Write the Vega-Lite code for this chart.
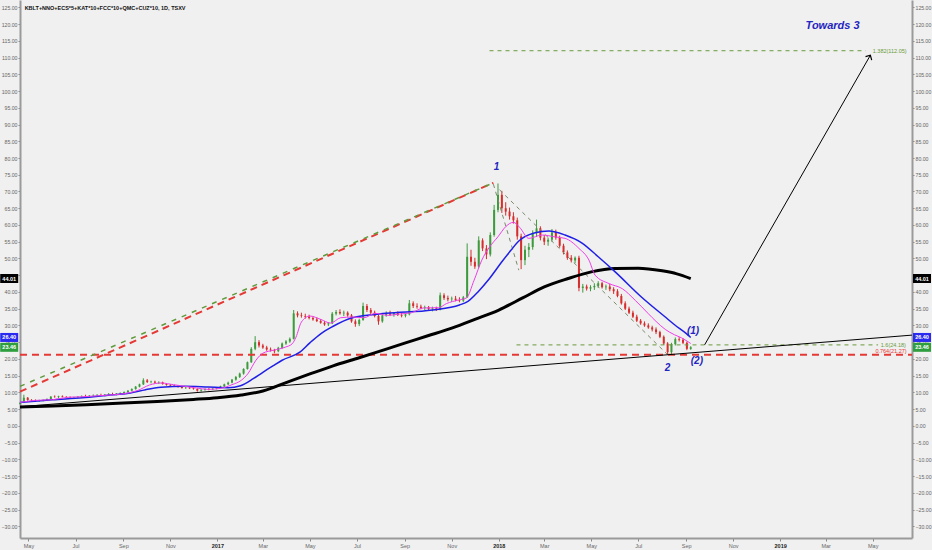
{
"$schema":"https://vega.github.io/schema/vega-lite/v6.json",
"width":892,"height":538,
"autosize":{"type":"none"},
"padding":{"left":20,"top":0,"right":20,"bottom":12},
"background":"#f0f0f0",
"config":{"view":{"stroke":null,"fill":"#f0f0f0"},"font":"Liberation Sans"},
"datasets":{
"c":[
{"d":"2016-04-20","o":6.6,"h":7.0,"l":6.4,"c":6.9},{"d":"2016-04-25","o":6.9,"h":9.3,"l":6.8,"c":8.4},{"d":"2016-04-30","o":8.4,"h":8.6,"l":7.5,"c":7.7},{"d":"2016-05-05","o":7.7,"h":8.0,"l":7.3,"c":7.6},{"d":"2016-05-10","o":7.6,"h":7.9,"l":7.3,"c":7.5},{"d":"2016-05-15","o":7.5,"h":7.8,"l":7.2,"c":7.6},{"d":"2016-05-20","o":7.6,"h":7.9,"l":7.3,"c":7.7},{"d":"2016-05-25","o":7.7,"h":8.2,"l":7.5,"c":8.0},{"d":"2016-05-30","o":8.0,"h":8.9,"l":7.9,"c":8.7},{"d":"2016-06-04","o":8.7,"h":9.1,"l":8.4,"c":8.6},{"d":"2016-06-09","o":8.6,"h":9.0,"l":8.3,"c":8.8},{"d":"2016-06-14","o":8.8,"h":9.1,"l":8.5,"c":8.6},{"d":"2016-06-19","o":8.6,"h":8.9,"l":8.3,"c":8.5},{"d":"2016-06-24","o":8.5,"h":8.8,"l":8.2,"c":8.4},{"d":"2016-06-29","o":8.4,"h":8.7,"l":8.1,"c":8.5},{"d":"2016-07-04","o":8.5,"h":8.9,"l":8.3,"c":8.7},{"d":"2016-07-09","o":8.7,"h":9.1,"l":8.5,"c":8.9},{"d":"2016-07-14","o":8.9,"h":9.3,"l":8.6,"c":8.8},{"d":"2016-07-19","o":8.8,"h":9.2,"l":8.5,"c":9.0},{"d":"2016-07-24","o":9.0,"h":9.4,"l":8.7,"c":9.1},{"d":"2016-07-29","o":9.1,"h":9.5,"l":8.8,"c":9.2},{"d":"2016-08-03","o":9.2,"h":9.6,"l":8.9,"c":9.0},{"d":"2016-08-08","o":9.0,"h":9.5,"l":8.8,"c":9.3},{"d":"2016-08-13","o":9.3,"h":9.8,"l":9.0,"c":9.5},{"d":"2016-08-18","o":9.5,"h":9.9,"l":9.2,"c":9.4},{"d":"2016-08-23","o":9.4,"h":9.8,"l":9.1,"c":9.6},{"d":"2016-08-28","o":9.6,"h":10.0,"l":9.3,"c":9.8},{"d":"2016-09-02","o":9.8,"h":10.3,"l":9.5,"c":10.1},{"d":"2016-09-07","o":10.1,"h":10.7,"l":9.9,"c":10.5},{"d":"2016-09-12","o":10.5,"h":11.2,"l":10.3,"c":11.0},{"d":"2016-09-17","o":11.0,"h":11.9,"l":10.8,"c":11.7},{"d":"2016-09-22","o":11.7,"h":12.6,"l":11.5,"c":12.4},{"d":"2016-09-27","o":12.4,"h":14.2,"l":12.2,"c":13.6},{"d":"2016-10-02","o":13.6,"h":14.0,"l":12.8,"c":13.1},{"d":"2016-10-07","o":13.1,"h":13.5,"l":12.7,"c":13.2},{"d":"2016-10-12","o":13.2,"h":13.5,"l":12.6,"c":12.9},{"d":"2016-10-17","o":12.9,"h":13.3,"l":12.5,"c":13.0},{"d":"2016-10-22","o":13.0,"h":13.2,"l":12.3,"c":12.5},{"d":"2016-10-27","o":12.5,"h":12.8,"l":12.0,"c":12.2},{"d":"2016-11-01","o":12.2,"h":12.5,"l":11.8,"c":12.0},{"d":"2016-11-06","o":12.0,"h":12.3,"l":11.6,"c":11.8},{"d":"2016-11-11","o":11.8,"h":12.1,"l":11.4,"c":11.6},{"d":"2016-11-16","o":11.6,"h":11.9,"l":11.1,"c":11.3},{"d":"2016-11-21","o":11.3,"h":11.7,"l":11.0,"c":11.4},{"d":"2016-11-26","o":11.4,"h":11.7,"l":11.0,"c":11.2},{"d":"2016-12-01","o":11.2,"h":11.5,"l":10.8,"c":11.0},{"d":"2016-12-06","o":11.0,"h":11.2,"l":10.2,"c":10.5},{"d":"2016-12-11","o":10.5,"h":10.9,"l":10.2,"c":10.8},{"d":"2016-12-16","o":10.8,"h":11.2,"l":10.5,"c":11.0},{"d":"2016-12-21","o":11.0,"h":11.3,"l":10.6,"c":10.9},{"d":"2016-12-26","o":10.9,"h":11.3,"l":10.7,"c":11.1},{"d":"2016-12-31","o":11.1,"h":11.6,"l":10.9,"c":11.5},
{"d":"2017-01-05","o":11.5,"h":12.0,"l":11.2,"c":11.8},{"d":"2017-01-10","o":11.8,"h":12.6,"l":11.6,"c":12.4},{"d":"2017-01-15","o":12.4,"h":13.2,"l":12.2,"c":12.9},{"d":"2017-01-20","o":12.9,"h":14.0,"l":12.7,"c":13.8},{"d":"2017-01-25","o":13.8,"h":14.9,"l":13.5,"c":14.6},{"d":"2017-01-30","o":14.6,"h":15.9,"l":14.3,"c":15.6},{"d":"2017-02-04","o":15.6,"h":17.2,"l":15.3,"c":17.0},{"d":"2017-02-09","o":17.0,"h":19.2,"l":16.8,"c":19.0},{"d":"2017-02-14","o":19.0,"h":23.5,"l":18.8,"c":23.0},{"d":"2017-02-19","o":23.0,"h":26.8,"l":22.6,"c":25.0},{"d":"2017-02-24","o":25.0,"h":25.6,"l":23.4,"c":24.0},{"d":"2017-03-01","o":24.0,"h":24.5,"l":23.0,"c":23.4},{"d":"2017-03-06","o":23.4,"h":23.9,"l":22.4,"c":22.8},{"d":"2017-03-11","o":22.8,"h":23.4,"l":22.2,"c":22.6},{"d":"2017-03-16","o":22.6,"h":23.0,"l":21.7,"c":22.3},{"d":"2017-03-21","o":22.3,"h":23.6,"l":22.0,"c":23.3},{"d":"2017-03-26","o":23.3,"h":24.9,"l":23.0,"c":24.6},{"d":"2017-03-31","o":24.6,"h":25.6,"l":24.2,"c":25.2},{"d":"2017-04-05","o":25.2,"h":26.4,"l":24.8,"c":26.0},{"d":"2017-04-10","o":26.0,"h":34.6,"l":25.8,"c":33.6},{"d":"2017-04-15","o":33.6,"h":34.2,"l":32.4,"c":33.0},{"d":"2017-04-20","o":33.0,"h":33.8,"l":32.3,"c":32.8},{"d":"2017-04-25","o":32.8,"h":33.5,"l":32.0,"c":32.6},{"d":"2017-04-30","o":32.6,"h":33.2,"l":31.8,"c":32.2},{"d":"2017-05-05","o":32.2,"h":32.8,"l":31.4,"c":31.8},{"d":"2017-05-10","o":31.8,"h":32.4,"l":31.0,"c":31.3},{"d":"2017-05-15","o":31.3,"h":31.9,"l":30.5,"c":30.8},{"d":"2017-05-20","o":30.8,"h":31.3,"l":29.9,"c":30.3},{"d":"2017-05-25","o":30.3,"h":31.0,"l":29.8,"c":30.6},{"d":"2017-05-30","o":30.6,"h":34.0,"l":30.4,"c":33.5},{"d":"2017-06-04","o":33.5,"h":34.6,"l":33.0,"c":34.0},{"d":"2017-06-09","o":34.0,"h":34.8,"l":33.2,"c":33.6},{"d":"2017-06-14","o":33.6,"h":34.4,"l":32.8,"c":33.8},{"d":"2017-06-19","o":33.8,"h":34.2,"l":32.6,"c":33.0},{"d":"2017-06-24","o":33.0,"h":33.4,"l":30.8,"c":31.2},{"d":"2017-06-29","o":31.2,"h":31.8,"l":29.6,"c":30.4},{"d":"2017-07-04","o":30.4,"h":32.0,"l":29.8,"c":31.6},{"d":"2017-07-09","o":31.6,"h":36.8,"l":31.4,"c":35.8},{"d":"2017-07-14","o":35.8,"h":36.4,"l":34.0,"c":34.6},{"d":"2017-07-19","o":34.6,"h":35.2,"l":33.2,"c":33.8},{"d":"2017-07-24","o":33.8,"h":34.4,"l":32.4,"c":32.8},{"d":"2017-07-29","o":32.8,"h":33.2,"l":30.2,"c":31.2},{"d":"2017-08-03","o":31.2,"h":33.4,"l":30.8,"c":33.0},{"d":"2017-08-08","o":33.0,"h":34.2,"l":32.6,"c":33.6},{"d":"2017-08-13","o":33.6,"h":34.4,"l":32.8,"c":33.2},{"d":"2017-08-18","o":33.2,"h":34.0,"l":32.6,"c":33.7},{"d":"2017-08-23","o":33.7,"h":34.2,"l":32.8,"c":33.1},{"d":"2017-08-28","o":33.1,"h":33.8,"l":32.4,"c":32.9},{"d":"2017-09-02","o":32.9,"h":33.6,"l":32.4,"c":33.3},{"d":"2017-09-07","o":33.3,"h":37.6,"l":33.0,"c":36.6},{"d":"2017-09-12","o":36.6,"h":37.2,"l":35.2,"c":35.8},{"d":"2017-09-17","o":35.8,"h":36.6,"l":35.0,"c":35.6},{"d":"2017-09-22","o":35.6,"h":36.2,"l":34.8,"c":35.2},{"d":"2017-09-27","o":35.2,"h":35.9,"l":34.6,"c":35.4},{"d":"2017-10-02","o":35.4,"h":35.8,"l":34.4,"c":34.9},{"d":"2017-10-07","o":34.9,"h":35.6,"l":34.2,"c":35.1},{"d":"2017-10-12","o":35.1,"h":35.6,"l":34.3,"c":34.7},{"d":"2017-10-17","o":34.7,"h":39.8,"l":34.5,"c":39.0},{"d":"2017-10-22","o":39.0,"h":39.6,"l":37.6,"c":38.2},{"d":"2017-10-27","o":38.2,"h":38.9,"l":37.2,"c":37.8},{"d":"2017-11-01","o":37.8,"h":38.6,"l":37.0,"c":38.0},{"d":"2017-11-06","o":38.0,"h":38.8,"l":37.2,"c":37.6},{"d":"2017-11-11","o":37.6,"h":38.4,"l":36.9,"c":37.4},{"d":"2017-11-16","o":37.4,"h":38.8,"l":37.0,"c":38.4},{"d":"2017-11-21","o":38.4,"h":54.5,"l":38.2,"c":50.5},{"d":"2017-11-26","o":50.5,"h":52.6,"l":47.8,"c":49.0},{"d":"2017-12-01","o":49.0,"h":50.2,"l":46.9,"c":47.6},{"d":"2017-12-06","o":47.6,"h":56.6,"l":47.2,"c":55.4},{"d":"2017-12-11","o":55.4,"h":56.0,"l":52.2,"c":53.0},{"d":"2017-12-16","o":53.0,"h":54.0,"l":49.8,"c":51.2},{"d":"2017-12-21","o":51.2,"h":57.8,"l":50.6,"c":57.0},{"d":"2017-12-26","o":57.0,"h":66.0,"l":56.5,"c":64.5},{"d":"2017-12-31","o":64.5,"h":72.4,"l":63.8,"c":69.0},
{"d":"2018-01-05","o":69.0,"h":70.2,"l":63.6,"c":65.0},{"d":"2018-01-10","o":65.0,"h":66.8,"l":62.8,"c":64.0},{"d":"2018-01-15","o":64.0,"h":65.2,"l":61.6,"c":62.6},{"d":"2018-01-20","o":62.6,"h":63.8,"l":60.4,"c":61.4},{"d":"2018-01-25","o":61.4,"h":62.2,"l":55.6,"c":56.6},{"d":"2018-01-30","o":56.6,"h":57.4,"l":46.8,"c":49.5},{"d":"2018-02-04","o":49.5,"h":53.8,"l":48.0,"c":52.6},{"d":"2018-02-09","o":52.6,"h":54.6,"l":50.4,"c":53.4},{"d":"2018-02-14","o":53.4,"h":58.4,"l":52.6,"c":57.6},{"d":"2018-02-19","o":57.6,"h":61.6,"l":56.4,"c":59.0},{"d":"2018-02-24","o":59.0,"h":59.6,"l":55.4,"c":56.2},{"d":"2018-03-01","o":56.2,"h":57.0,"l":54.0,"c":55.0},{"d":"2018-03-06","o":55.0,"h":56.2,"l":53.8,"c":55.6},{"d":"2018-03-11","o":55.6,"h":58.8,"l":55.0,"c":57.8},{"d":"2018-03-16","o":57.8,"h":58.6,"l":55.6,"c":56.2},{"d":"2018-03-21","o":56.2,"h":56.8,"l":53.2,"c":53.8},{"d":"2018-03-26","o":53.8,"h":54.4,"l":51.2,"c":51.8},{"d":"2018-03-31","o":51.8,"h":52.4,"l":49.6,"c":50.2},{"d":"2018-04-05","o":50.2,"h":51.0,"l":48.8,"c":49.4},{"d":"2018-04-10","o":49.4,"h":50.6,"l":48.6,"c":50.2},{"d":"2018-04-15","o":50.2,"h":50.8,"l":40.2,"c":41.2},{"d":"2018-04-20","o":41.2,"h":42.4,"l":39.8,"c":41.6},{"d":"2018-04-25","o":41.6,"h":42.2,"l":40.4,"c":41.0},{"d":"2018-04-30","o":41.0,"h":42.0,"l":40.2,"c":41.4},{"d":"2018-05-05","o":41.4,"h":42.6,"l":40.6,"c":41.8},{"d":"2018-05-10","o":41.8,"h":43.2,"l":41.2,"c":42.6},{"d":"2018-05-15","o":42.6,"h":43.0,"l":41.0,"c":41.4},{"d":"2018-05-20","o":41.4,"h":42.2,"l":40.6,"c":41.6},{"d":"2018-05-25","o":41.6,"h":42.4,"l":40.2,"c":40.8},{"d":"2018-05-30","o":40.8,"h":41.4,"l":39.4,"c":40.2},{"d":"2018-06-04","o":40.2,"h":40.8,"l":38.4,"c":38.8},{"d":"2018-06-09","o":38.8,"h":39.4,"l":36.2,"c":36.6},{"d":"2018-06-14","o":36.6,"h":37.2,"l":34.6,"c":35.0},{"d":"2018-06-19","o":35.0,"h":35.6,"l":33.4,"c":33.8},{"d":"2018-06-24","o":33.8,"h":34.4,"l":32.2,"c":32.6},{"d":"2018-06-29","o":32.6,"h":33.2,"l":31.0,"c":31.4},{"d":"2018-07-04","o":31.4,"h":31.9,"l":30.2,"c":30.6},{"d":"2018-07-09","o":30.6,"h":31.2,"l":29.6,"c":30.0},{"d":"2018-07-14","o":30.0,"h":30.6,"l":29.0,"c":29.4},{"d":"2018-07-19","o":29.4,"h":29.9,"l":28.2,"c":28.8},{"d":"2018-07-24","o":28.8,"h":29.4,"l":27.4,"c":28.0},{"d":"2018-07-29","o":28.0,"h":28.4,"l":26.2,"c":26.6},{"d":"2018-08-03","o":26.6,"h":27.0,"l":24.2,"c":24.6},{"d":"2018-08-08","o":24.6,"h":25.0,"l":21.3,"c":22.0},{"d":"2018-08-13","o":22.0,"h":24.8,"l":21.4,"c":24.4},{"d":"2018-08-18","o":24.4,"h":26.4,"l":24.0,"c":25.9},{"d":"2018-08-23","o":25.9,"h":26.5,"l":25.2,"c":25.7},{"d":"2018-08-28","o":25.7,"h":26.2,"l":24.4,"c":24.8},{"d":"2018-09-02","o":24.8,"h":25.2,"l":22.6,"c":23.0},{"d":"2018-09-07","o":23.0,"h":23.8,"l":22.7,"c":23.46}
],
"pink":[
{"d":"2016-04-20","v":7.0},{"d":"2016-05-10","v":7.6},{"d":"2016-06-01","v":7.8},{"d":"2016-06-20","v":8.5},{"d":"2016-07-10","v":8.7},{"d":"2016-08-01","v":9.0},{"d":"2016-08-20","v":9.3},{"d":"2016-09-05","v":9.7},{"d":"2016-09-20","v":10.6},{"d":"2016-10-05","v":12.2},{"d":"2016-10-20","v":12.8},{"d":"2016-11-05","v":12.3},{"d":"2016-11-20","v":11.8},{"d":"2016-12-05","v":11.3},{"d":"2016-12-20","v":10.9},{"d":"2017-01-05","v":11.2},{"d":"2017-01-20","v":12.3},{"d":"2017-02-01","v":13.6},{"d":"2017-02-10","v":15.7},{"d":"2017-02-20","v":19.6},{"d":"2017-03-01","v":21.7},{"d":"2017-03-15","v":22.6},{"d":"2017-03-30","v":23.5},{"d":"2017-04-08","v":24.5},{"d":"2017-04-13","v":26.5},{"d":"2017-04-20","v":31.0},{"d":"2017-05-01","v":32.8},{"d":"2017-05-15","v":31.8},{"d":"2017-05-28","v":30.7},{"d":"2017-06-10","v":32.3},{"d":"2017-06-25","v":32.5},{"d":"2017-07-10","v":32.3},{"d":"2017-07-25","v":33.6},{"d":"2017-08-10","v":33.0},{"d":"2017-08-25","v":33.4},{"d":"2017-09-10","v":33.8},{"d":"2017-09-25","v":35.2},{"d":"2017-10-15","v":35.3},{"d":"2017-10-25","v":36.5},{"d":"2017-11-10","v":37.6},{"d":"2017-11-20","v":38.2},{"d":"2017-11-30","v":43.5},{"d":"2017-12-10","v":49.5},{"d":"2017-12-20","v":53.4},{"d":"2017-12-31","v":56.5},{"d":"2018-01-10","v":59.5},{"d":"2018-01-20","v":60.8},{"d":"2018-01-28","v":59.3},{"d":"2018-02-09","v":56.0},{"d":"2018-02-26","v":57.0},{"d":"2018-03-16","v":56.4},{"d":"2018-03-28","v":56.0},{"d":"2018-04-15","v":53.0},{"d":"2018-04-28","v":49.5},{"d":"2018-05-06","v":45.0},{"d":"2018-05-24","v":42.5},{"d":"2018-06-10","v":41.0},{"d":"2018-06-27","v":37.5},{"d":"2018-07-14","v":33.5},{"d":"2018-07-24","v":31.2},{"d":"2018-08-05","v":28.8},{"d":"2018-08-17","v":27.2},{"d":"2018-08-26","v":26.3},{"d":"2018-09-07","v":24.6}
],
"blue":[
{"d":"2016-04-20","v":7.0},{"d":"2016-06-01","v":7.8},{"d":"2016-07-10","v":8.4},{"d":"2016-08-10","v":9.1},{"d":"2016-09-10","v":9.8},{"d":"2016-09-30","v":10.8},{"d":"2016-10-20","v":11.5},{"d":"2016-11-20","v":11.8},{"d":"2016-12-20","v":11.6},{"d":"2017-01-15","v":11.4},{"d":"2017-01-31","v":12.0},{"d":"2017-02-16","v":14.0},{"d":"2017-03-01","v":16.0},{"d":"2017-03-14","v":17.9},{"d":"2017-03-26","v":19.6},{"d":"2017-04-18","v":22.0},{"d":"2017-05-01","v":24.8},{"d":"2017-05-15","v":27.5},{"d":"2017-05-30","v":29.6},{"d":"2017-06-25","v":32.3},{"d":"2017-08-08","v":33.6},{"d":"2017-10-07","v":34.6},{"d":"2017-11-11","v":36.1},{"d":"2017-11-22","v":37.2},{"d":"2017-12-05","v":40.0},{"d":"2017-12-20","v":44.0},{"d":"2018-01-05","v":49.0},{"d":"2018-01-17","v":52.5},{"d":"2018-01-26","v":55.0},{"d":"2018-02-16","v":57.6},{"d":"2018-03-07","v":58.2},{"d":"2018-03-28","v":57.0},{"d":"2018-04-19","v":54.6},{"d":"2018-05-10","v":50.5},{"d":"2018-06-01","v":46.0},{"d":"2018-07-05","v":38.5},{"d":"2018-08-05","v":32.5},{"d":"2018-08-17","v":30.2},{"d":"2018-09-01","v":27.6},{"d":"2018-09-07","v":26.4}
],
"black":[
{"d":"2016-04-20","v":5.6},{"d":"2016-06-01","v":5.9},{"d":"2016-07-15","v":6.3},{"d":"2016-09-01","v":6.8},{"d":"2016-10-15","v":7.3},{"d":"2016-12-01","v":7.9},{"d":"2017-01-01","v":8.4},{"d":"2017-02-01","v":9.2},{"d":"2017-03-01","v":10.4},{"d":"2017-04-01","v":13.0},{"d":"2017-05-01","v":15.5},{"d":"2017-06-01","v":18.0},{"d":"2017-07-01","v":20.1},{"d":"2017-08-01","v":22.4},{"d":"2017-09-01","v":24.7},{"d":"2017-10-01","v":26.9},{"d":"2017-11-01","v":29.2},{"d":"2017-12-01","v":31.8},{"d":"2018-01-01","v":34.6},{"d":"2018-02-01","v":38.2},{"d":"2018-03-01","v":41.5},{"d":"2018-04-01","v":44.0},{"d":"2018-05-01","v":46.0},{"d":"2018-06-01","v":47.0},{"d":"2018-07-01","v":47.1},{"d":"2018-08-01","v":46.3},{"d":"2018-08-20","v":45.4},{"d":"2018-09-07","v":44.0}
]
},
"encoding":{"x":{"field":"d","type":"temporal","scale":{"type":"utc","domain":[{"year":2016,"month":4,"date":20,"utc":true},{"year":2019,"month":6,"date":21,"utc":true}]},
"axis":{"title":null,"tickCount":{"interval":"month","step":2},"labelExpr":"utcmonth(datum.value)==0 ? utcFormat(datum.value,'%Y') : utcFormat(datum.value,'%b')","labelFontWeight":{"condition":{"test":"utcmonth(datum.value)==0","value":"bold"},"value":"normal"},"labelColor":{"condition":{"test":"utcmonth(datum.value)==0","value":"#222"},"value":"#666"},"labelFontSize":5.5,"tickSize":3,"tickColor":"#888","domainColor":"#9a9a9a","domainWidth":2,"grid":false,"labelPadding":2,"labelFlush":false,"labelOverlap":false}}},
"layer":[
{"data":{"name":"c"},"mark":{"type":"rule","strokeWidth":1},
"encoding":{"y":{"field":"l","type":"quantitative","scale":{"domain":[-33.5,127.2],"nice":false,"zero":false},"axis":{"title":null,"orient":"left","values":[-30,-25,-20,-15,-10,-5,0,5,10,15,20,25,30,35,40,45,50,55,60,65,70,75,80,85,90,95,100,105,110,115,120,125],"format":".2f","labelFontSize":5.2,"labelColor":"#666","tickSize":2,"tickColor":"#888","domainColor":"#9a9a9a","domainWidth":2,"grid":false,"labelPadding":1}},"y2":{"field":"h"},
"color":{"condition":{"test":"datum.c >= datum.o","value":"#3d9b3d"},"value":"#d62c2c"}}},
{"data":{"name":"c"},"mark":{"type":"rule","strokeWidth":2},
"encoding":{"y":{"field":"o","type":"quantitative","axis":{"title":null,"orient":"right","values":[-30,-25,-20,-15,-10,-5,0,5,10,15,20,25,30,35,40,45,50,55,60,65,70,75,80,85,90,95,100,105,110,115,120,125],"format":".2f","labelFontSize":5.2,"labelColor":"#666","tickSize":2,"tickColor":"#888","domainColor":"#9a9a9a","domainWidth":2,"grid":false,"labelPadding":1}},"y2":{"field":"c"},
"color":{"condition":{"test":"datum.c >= datum.o","value":"#3d9b3d"},"value":"#d62c2c"}}},
{"data":{"values":[{"d":"2016-04-20","v":21.27},{"d":"2019-06-21","v":21.27}]},"mark":{"type":"line","color":"#e53935","strokeWidth":2,"strokeDash":[7,5]},"encoding":{"y":{"field":"v","type":"quantitative","axis":null}}},
{"data":{"values":[{"d":"2016-04-20","v":10.2},{"d":"2017-12-25","v":72.6}]},"mark":{"type":"line","color":"#e53935","strokeWidth":2,"strokeDash":[7,5]},"encoding":{"y":{"field":"v","type":"quantitative","axis":null}}},
{"data":{"values":[{"d":"2016-04-20","v":11.8},{"d":"2017-12-25","v":72.6}]},"mark":{"type":"line","color":"#5f9a3c","strokeWidth":1.5,"strokeDash":[5,6]},"encoding":{"y":{"field":"v","type":"quantitative","axis":null}}},
{"data":{"values":[{"d":"2018-01-24","v":24.18},{"d":"2019-05-08","v":24.18}]},"mark":{"type":"line","color":"#6a9a3a","strokeWidth":1,"strokeDash":[4,4]},"encoding":{"y":{"field":"v","type":"quantitative","axis":null}}},
{"data":{"values":[{"d":"2017-12-20","v":112.05},{"d":"2019-04-22","v":112.05}]},"mark":{"type":"line","color":"#6a9a3a","strokeWidth":1,"strokeDash":[4,4]},"encoding":{"y":{"field":"v","type":"quantitative","axis":null}}},
{"data":{"values":[{"d":"2017-12-25","v":72.2},{"d":"2018-01-27","v":46.5}]},"mark":{"type":"line","color":"#7a8a6a","strokeWidth":1,"strokeDash":[4,4]},"encoding":{"y":{"field":"v","type":"quantitative","axis":null}}},
{"data":{"values":[{"d":"2018-01-02","v":70.5},{"d":"2018-08-08","v":21.27}]},"mark":{"type":"line","color":"#7a8a6a","strokeWidth":1,"strokeDash":[4,4]},"encoding":{"y":{"field":"v","type":"quantitative","axis":null}}},
{"data":{"values":[{"d":"2016-04-20","v":5.7},{"d":"2019-06-21","v":27.1}]},"mark":{"type":"line","color":"#000000","strokeWidth":1},"encoding":{"y":{"field":"v","type":"quantitative","axis":null}}},
{"data":{"name":"black"},"mark":{"type":"line","color":"#000000","strokeWidth":3,"interpolate":"monotone"},"encoding":{"y":{"field":"v","type":"quantitative","axis":null}}},
{"data":{"name":"blue"},"mark":{"type":"line","color":"#1f1fe6","strokeWidth":1.5,"interpolate":"monotone"},"encoding":{"y":{"field":"v","type":"quantitative","axis":null}}},
{"data":{"name":"pink"},"mark":{"type":"line","color":"#ee3ee8","strokeWidth":1,"interpolate":"monotone"},"encoding":{"y":{"field":"v","type":"quantitative","axis":null}}},
{"data":{"values":[{"d":"2018-09-25","v":24.2},{"d":"2019-04-28","v":110.7}]},"mark":{"type":"line","color":"#000000","strokeWidth":1},"encoding":{"y":{"field":"v","type":"quantitative","axis":null}}},
{"data":{"values":[{"d":"2019-04-28","v":110.7}]},"mark":{"type":"point","shape":"M -1 1 L 0 0 L 1 1","filled":false,"stroke":"#000000","strokeWidth":1.2,"size":50,"angle":29.6,"opacity":1},"encoding":{"y":{"field":"v","type":"quantitative","axis":null}}},
{"data":{"values":[{"d":"2017-12-29","v":77.3,"t":"1"},{"d":"2018-08-08","v":17.2,"t":"2"},{"d":"2018-09-10","v":28.3,"t":"(1)"},{"d":"2018-09-15","v":19.4,"t":"(2)"}]},"mark":{"type":"text","color":"#2424c0","fontSize":10,"fontStyle":"italic","fontWeight":"bold","font":"Liberation Sans","baseline":"middle","align":"center"},"encoding":{"y":{"field":"v","type":"quantitative","axis":null},"text":{"field":"t"}}},
{"data":{"values":[{"d":"2019-03-10","v":119.4,"t":"Towards 3"}]},"mark":{"type":"text","color":"#2424c0","fontSize":11,"fontStyle":"italic","fontWeight":"bold","font":"Liberation Sans","baseline":"middle","align":"center"},"encoding":{"y":{"field":"v","type":"quantitative","axis":null},"text":{"field":"t"}}},
{"data":{"values":[{"d":"2019-06-14","v":112.05,"t":"1.382(112.05)"},{"d":"2019-06-13","v":24.18,"t":"1.6(24.18)"}]},"mark":{"type":"text","color":"#6a9a3a","fontSize":5.5,"baseline":"middle","align":"right"},"encoding":{"y":{"field":"v","type":"quantitative","axis":null},"text":{"field":"t"}}},
{"data":{"values":[{"d":"2019-06-14","v":22.4,"t":"0.764(21.27)"}]},"mark":{"type":"text","color":"#e53935","fontSize":5.5,"baseline":"middle","align":"right"},"encoding":{"y":{"field":"v","type":"quantitative","axis":null},"text":{"field":"t"}}},
{"data":{"values":[{"d":"2016-04-26","v":124.7,"t":"KBLT+NNO+ECS*5+KAT*10+FCC*10+QMC+CUZ*10, 1D, TSXV"}]},"mark":{"type":"text","color":"#111111","fontSize":5.5,"fontWeight":"bold","baseline":"middle","align":"left"},"encoding":{"y":{"field":"v","type":"quantitative","axis":null},"text":{"field":"t"}}},
{"data":{"values":[{"d":"2019-07-04","v":44.01,"s":"ma200"},{"d":"2019-07-04","v":26.40,"s":"ma50"},{"d":"2019-07-04","v":23.46,"s":"close"},{"d":"2016-04-06","v":44.01,"s":"ma200"},{"d":"2016-04-06","v":26.40,"s":"ma50"},{"d":"2016-04-06","v":23.46,"s":"close"}]},"mark":{"type":"point","shape":"M -1 -0.5 L 1 -0.5 L 1 0.5 L -1 0.5 Z","filled":true,"size":324,"opacity":1,"strokeWidth":0},"encoding":{"y":{"field":"v","type":"quantitative","axis":null},"color":{"field":"s","type":"nominal","legend":null,"scale":{"domain":["ma200","ma50","close"],"range":["#000000","#2a2af0","#2e9e3e"]}}}},
{"data":{"values":[{"d":"2019-07-04","v":44.01,"t":"44.01"},{"d":"2019-07-04","v":26.40,"t":"26.40"},{"d":"2019-07-04","v":23.46,"t":"23.46"},{"d":"2016-04-06","v":44.01,"t":"44.01"},{"d":"2016-04-06","v":26.40,"t":"26.40"},{"d":"2016-04-06","v":23.46,"t":"23.46"}]},"mark":{"type":"text","color":"#ffffff","fontSize":5.5,"fontWeight":"bold","baseline":"middle","align":"center"},"encoding":{"y":{"field":"v","type":"quantitative","axis":null},"text":{"field":"t"}}}
],
"resolve":{"axis":{"y":"independent"}}
}
